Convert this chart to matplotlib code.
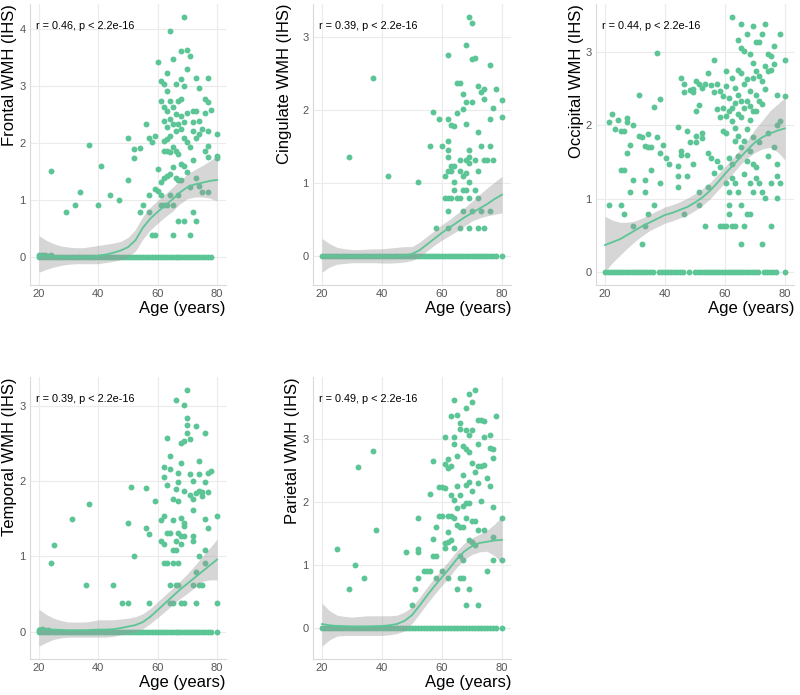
import matplotlib
matplotlib.use("Agg")
import matplotlib.pyplot as plt
from matplotlib.ticker import MultipleLocator

plt.rcParams['font.family'] = ['Liberation Sans', 'DejaVu Sans']

# ---------------- data ----------------
x_ticks = [20, 40, 60, 80]
curve_age = [20, 22.5, 25, 27.5, 30, 32.5, 35, 37.5, 40, 42.5, 45, 47.5, 50, 52.5, 55, 57.5, 60, 62.5, 65, 67.5,
             70, 72.5, 75, 77.5, 80]

# Frontal
frontal_age = [24, 29, 32, 34, 37, 40, 41, 44, 47, 50, 50, 52, 52, 54, 54, 55, 56, 57, 57, 57, 58, 58, 59, 59, 59,
               60, 60, 60, 61, 61, 61, 61, 61, 62, 62, 62, 62, 62, 62, 62, 63, 63, 63, 63, 63, 63, 63, 63,
               64, 64, 64, 64, 64, 64, 64, 65, 65, 65, 65, 65, 65, 65, 66, 66, 66, 66, 66, 67, 67, 67, 67, 67, 67,
               68, 68, 68, 68, 68, 68, 68, 69, 69, 69, 69, 69, 69, 70, 70, 70, 70, 70, 71, 71, 71, 71,
               72, 72, 72, 72, 72, 73, 73, 73, 73, 73, 74, 74, 74, 74, 75, 75, 76, 76, 76, 77, 77, 77, 77, 77, 77,
               78, 80, 80, 80, 20, 21, 22, 23, 24]
frontal_val = [1.51, 0.79, 0.92, 1.15, 1.98, 0.92, 1.61, 1.09, 1.01, 1.35, 2.09, 1.74, 1.90, 1.91, 0.79, 0.92, 2.34,
               2.09, 0.79, 1.10, 2.02, 0.39, 0.39, 2.13, 1.20,
               3.42, 1.55, 1.17, 3.10, 2.75, 1.32, 1.10, 0.92, 3.04, 2.63, 2.40, 2.05, 1.87, 1.40, 0.92,
               3.24, 2.92, 2.57, 2.28, 2.08, 1.87, 1.43, 0.92,
               3.97, 2.75, 2.43, 2.13, 1.84, 1.46, 1.09, 3.48, 2.63, 2.34, 1.93, 1.59, 0.92, 0.39,
               3.04, 2.51, 2.22, 1.87, 1.40, 2.75, 2.34, 1.81, 1.35, 1.09, 0.63,
               3.62, 3.13, 2.78, 2.48, 2.25, 1.64, 1.35, 4.22, 3.01, 2.37, 2.10, 1.61, 0.63, 3.63, 3.30, 2.54, 2.02,
               1.49, 3.53, 1.93, 0.39, 1.23,
               2.57, 2.37, 2.22, 1.70, 0.79, 3.15, 2.57, 2.10, 1.39, 0.63, 2.97, 2.40, 2.16, 1.26, 2.25, 1.15,
               2.54, 2.78, 1.87, 3.14, 2.72, 2.22, 1.96, 1.76, 1.15,
               2.59, 2.17, 1.78, 1.75, 0.04, 0.05, 0.04, 0.03, 0.04]
frontal_zero_age = [20, 21, 22, 23, 24, 25, 26, 27, 28, 29, 30, 31, 32, 33, 34, 35, 36, 37, 38, 39, 40, 41, 42, 43,
                    44, 45, 46, 47, 48, 49, 50, 51, 52, 53, 54, 55, 56, 57, 58, 59, 60, 61, 62, 63, 64, 65, 66, 67,
                    68, 69, 70, 71, 72, 73, 74, 75, 76, 77, 78]
frontal_fit = [0.035, 0.03, 0.02, 0.01, 0.005, 0.0, 0.0, 0.01, 0.03, 0.05, 0.08, 0.12, 0.18, 0.30, 0.52, 0.68,
               0.80, 0.91, 1.02, 1.14, 1.23, 1.28, 1.31, 1.34, 1.36]
frontal_lo = [-0.26, -0.21, -0.17, -0.14, -0.12, -0.11, -0.11, -0.11, -0.11, -0.09, -0.07, -0.04, 0.01, 0.11, 0.32,
              0.48, 0.60, 0.71, 0.81, 0.94, 1.03, 1.06, 1.06, 1.04, 0.99]
frontal_hi = [0.38, 0.30, 0.24, 0.20, 0.18, 0.17, 0.17, 0.19, 0.21, 0.23, 0.25, 0.28, 0.35, 0.49, 0.72, 0.88,
              1.00, 1.11, 1.23, 1.35, 1.46, 1.54, 1.61, 1.69, 1.78]

# Cingulate
cingulate_age = [29, 37, 42, 52, 56, 57, 58, 59, 60, 61, 61, 62, 62, 62, 62, 62, 62, 62, 62, 62, 63, 63, 63, 63,
                 64, 64, 64, 64, 65, 65, 65, 66, 66, 66, 66, 66, 67, 67, 67, 67, 67, 68, 68, 68, 68, 68, 68,
                 69, 69, 69, 69, 69, 69, 69, 70, 70, 70, 70, 71, 71, 71, 72, 72, 72, 72, 72, 73, 73, 73,
                 74, 74, 74, 74, 75, 76, 76, 76, 76, 77, 77, 78, 80, 80]
cingulate_val = [1.35, 2.43, 1.09, 1.01, 1.51, 1.97, 0.38, 1.87, 1.51, 1.09, 0.80, 2.75, 1.87, 1.57, 1.45, 1.35,
                 1.16, 0.80, 0.62, 0.38, 1.79, 1.23, 1.16, 0.80,
                 1.78, 1.23, 1.01, 0.91, 1.95, 2.37, 0.80, 2.36, 1.32, 1.16, 0.80, 0.38, 2.21, 2.01, 1.09, 0.91, 0.62,
                 2.89, 2.11, 1.81, 1.32, 1.14, 0.91,
                 3.27, 1.45, 1.36, 1.27, 1.01, 0.80, 0.38, 3.18, 2.69, 2.11, 0.62, 2.70, 1.32, 0.91,
                 2.32, 1.69, 1.16, 0.80, 0.38, 2.24, 1.51, 0.62,
                 2.29, 2.15, 1.32, 0.38, 1.32, 2.61, 1.87, 1.51, 0.62, 2.02, 1.32, 2.29, 2.13, 1.90]
cingulate_zero_age = [20, 21, 22, 23, 24, 25, 26, 27, 28, 29, 30, 31, 32, 33, 34, 35, 36, 37, 38, 39, 40, 41, 42,
                      43, 44, 45, 46, 47, 48, 49, 50, 51, 52, 53, 54, 55, 56, 57, 58, 59, 60, 61, 62, 63, 64, 65,
                      66, 67, 68, 69, 70, 71, 72, 73, 74, 75, 76, 77, 78, 80]
cingulate_fit = [0.0, 0.0, 0.0, 0.0, 0.0, 0.0, 0.0, 0.0, 0.0, 0.0, 0.0, 0.005, 0.03, 0.08, 0.16, 0.24, 0.32, 0.39,
                 0.46, 0.53, 0.59, 0.65, 0.71, 0.78, 0.84]
cingulate_lo = [-0.22, -0.15, -0.11, -0.10, -0.09, -0.09, -0.09, -0.09, -0.095, -0.095, -0.09, -0.08, -0.06, -0.01,
                0.07, 0.15, 0.22, 0.28, 0.34, 0.41, 0.48, 0.52, 0.55, 0.57, 0.59]
cingulate_hi = [0.24, 0.17, 0.12, 0.10, 0.09, 0.09, 0.095, 0.10, 0.10, 0.11, 0.12, 0.13, 0.13, 0.19, 0.27, 0.35,
                0.43, 0.50, 0.58, 0.66, 0.75, 0.84, 0.93, 1.01, 1.09]

# Occipital
occipital_age = [21.3, 21.3, 22.3, 23.3, 24.3, 25.3, 25.3, 25.3, 26.3, 26.3, 26.3, 27.3, 27.3, 27.3, 28.3, 28.3,
                 29.3, 29.3, 29.3, 31.3, 31.3, 32.3, 32.3, 33.3, 33.3, 33.3, 33.3, 34.3, 34.3, 34.3, 35.3, 35.3,
                 36.3, 36.3, 37.3, 37.3, 38.3, 38.3, 38.3, 39.3, 40.3, 41.3,
                 44.3, 44.3, 44.3, 44.3, 45.3, 45.3, 45.3, 46.3, 46.3, 46.3, 47.3, 47.3, 47.3, 48.3, 48.3,
                 49.3, 49.3, 49.3, 50.3, 50.3, 50.3, 50.3, 51.3, 51.3, 51.3, 51.3, 52.3, 52.3, 52.3, 53.3, 53.3,
                 54.3, 54.3, 54.3, 55.3, 55.3, 56.3, 56.3, 56.3, 57.3, 57.3, 57.3, 58.3, 58.3, 58.3, 58.3,
                 59.3, 59.3, 59.3, 59.3, 60.3, 60.3, 60.3, 60.3, 60.3, 60.3,
                 61.3, 61.3, 61.3, 61.3, 61.3, 61.3, 62.3, 62.3, 62.3, 62.3, 62.3, 62.3, 62.3,
                 63.3, 63.3, 63.3, 63.3, 63.3, 63.3, 64.3, 64.3, 64.3, 64.3, 64.3, 64.3, 64.3,
                 65.3, 65.3, 65.3, 65.3, 65.3, 65.3, 65.3, 65.3, 66.3, 66.3, 66.3, 66.3, 66.3, 66.3,
                 67.3, 67.3, 67.3, 67.3, 67.3, 67.3, 68.3, 68.3, 68.3, 68.3, 68.3, 68.3, 68.3,
                 69.3, 69.3, 69.3, 69.3, 69.3, 69.3, 69.3, 70.3, 70.3, 70.3, 70.3, 70.3, 70.3,
                 71.3, 71.3, 71.3, 71.3, 71.3, 72.3, 72.3, 72.3, 72.3, 72.3, 73.3, 73.3, 73.3, 73.3,
                 74.3, 74.3, 74.3, 74.3, 75.3, 75.3, 75.3, 75.3, 76.3, 76.3, 76.3,
                 77.3, 77.3, 77.3, 77.3, 77.3, 78.3, 78.3, 78.3, 80, 80]
occipital_val = [0.92, 2.04, 2.15, 1.95, 2.08, 0.92, 1.93, 1.39, 1.93, 1.39, 0.80, 2.10, 1.63, 2.04, 1.74, 1.09,
                 2.01, 1.26, 0.63, 2.41, 1.86, 1.84, 0.39, 1.26, 1.09, 0.63, 1.72, 1.88, 1.71, 0.79, 1.71, 1.39,
                 2.25, 0.92, 2.98, 1.84, 2.36, 1.63, 1.21, 1.74, 1.56, 1.48,
                 1.98, 1.45, 1.31, 1.16, 2.64, 1.65, 1.60, 2.56, 2.46, 0.79, 1.93, 1.60, 1.31, 2.48, 1.77,
                 2.49, 1.48, 2.46, 2.61, 2.20, 1.86, 1.77, 2.56, 2.28, 1.09, 0.92, 1.90, 2.51, 1.83, 0.63, 2.56,
                 2.72, 1.63, 1.16, 2.55, 1.56, 2.89, 2.45, 1.35, 2.23, 2.56, 1.52, 2.47, 2.11, 0.63, 1.43,
                 2.40, 2.24, 1.93, 0.63, 2.74, 2.54, 2.13, 1.89, 0.63, 1.21,
                 2.38, 2.20, 1.56, 1.09, 0.92, 0.79, 3.48, 2.65, 2.24, 2.06, 1.47, 1.29, 0.63,
                 2.51, 2.31, 1.97, 1.79, 1.21, 0.63, 3.17, 2.76, 2.42, 2.15, 1.86, 1.59, 1.09,
                 3.38, 3.06, 2.72, 2.33, 2.11, 1.70, 0.92, 0.39, 3.01, 2.56, 2.24, 1.79, 1.34, 0.63,
                 3.24, 2.63, 2.33, 1.95, 1.52, 0.79, 2.97, 2.47, 2.27, 2.08, 1.65, 1.21, 0.79,
                 3.35, 2.85, 2.65, 2.20, 1.84, 1.47, 1.09, 3.13, 2.74, 2.42, 2.20, 1.43, 1.29,
                 3.13, 2.67, 2.33, 1.77, 1.21, 3.24, 2.60, 2.29, 1.09, 0.39, 3.38, 2.81, 2.49, 1.01,
                 2.97, 2.74, 1.90, 1.59, 2.95, 2.76, 1.21, 0.63, 3.08, 2.83, 1.70,
                 2.42, 2.01, 1.48, 1.31, 1.01, 3.24, 2.06, 1.21, 2.89, 2.40]
occipital_zero_age = [20, 21, 22, 23, 24, 25, 26, 27, 28, 29, 30, 31, 32, 33, 34, 35, 36, 38, 39, 40, 41, 42, 43,
                      44, 45, 46, 48, 50, 51, 52, 53, 54, 55, 56, 57, 58, 59, 60, 61, 62, 63, 64, 65, 66, 67, 68,
                      69, 70, 71, 73, 74, 75, 76, 77, 80]
occipital_fit = [0.37, 0.41, 0.45, 0.51, 0.57, 0.63, 0.68, 0.73, 0.78, 0.81, 0.85, 0.89, 0.95, 1.02, 1.11, 1.22,
                 1.34, 1.45, 1.56, 1.67, 1.77, 1.84, 1.89, 1.93, 1.96]
occipital_lo = [0.01, 0.13, 0.23, 0.33, 0.42, 0.50, 0.57, 0.62, 0.67, 0.70, 0.74, 0.78, 0.84, 0.91, 1.00, 1.11,
                1.22, 1.34, 1.46, 1.56, 1.63, 1.68, 1.70, 1.64, 1.53]
occipital_hi = [0.76, 0.71, 0.68, 0.68, 0.70, 0.74, 0.79, 0.84, 0.89, 0.92, 0.96, 1.01, 1.07, 1.14, 1.22, 1.33,
                1.44, 1.55, 1.67, 1.80, 1.95, 2.07, 2.20, 2.29, 2.38]

# Temporal
temporal_age = [24, 25, 31, 36, 37, 45, 48, 50, 50, 51, 52, 56, 56, 57, 57, 59, 61, 61, 62, 62, 62, 62, 62,
                63, 63, 63, 63, 64, 64, 64, 64, 64, 65, 65, 65, 65, 65, 66, 66, 66, 66, 66, 67, 67, 67, 67, 67, 67,
                68, 68, 68, 68, 68, 68, 69, 69, 69, 69, 69, 69, 69, 70, 70, 70, 70, 71, 71, 71,
                72, 72, 72, 72, 72, 72, 73, 73, 73, 73, 74, 74, 74, 74, 74, 75, 75, 75, 76, 76, 76, 76, 76,
                77, 77, 77, 78, 80, 80, 20, 21, 22, 23]
temporal_val = [0.91, 1.15, 1.50, 0.62, 1.70, 0.62, 0.38, 0.38, 1.45, 1.92, 1.00, 1.91, 1.38, 1.30, 0.38, 1.73,
                1.49, 1.20, 2.19, 2.06, 1.53, 1.16, 0.91,
                2.57, 1.95, 1.31, 0.91, 2.33, 2.16, 1.31, 0.62, 0.38, 1.76, 1.48, 1.08, 0.91, 0.38,
                3.08, 1.90, 1.20, 1.08, 0.62, 2.11, 1.99, 1.73, 1.31, 0.91, 0.62,
                2.51, 2.24, 1.51, 1.27, 1.16, 0.38, 3.01, 2.53, 1.87, 1.44, 1.40, 1.27, 0.38, 3.21, 2.83, 2.74,
                2.64, 2.56, 2.09, 1.82,
                2.00, 1.76, 1.62, 1.27, 1.20, 0.62, 2.73, 1.84, 0.79, 0.38, 2.27, 2.09, 1.87, 1.00, 0.62,
                1.80, 1.85, 0.62, 2.64, 1.99, 1.50, 1.08, 0.91,
                2.11, 1.85, 1.38, 2.13, 1.53, 0.38, 0.03, 0.04, 0.03, 0.03]
temporal_zero_age = [20, 21, 22, 23, 24, 25, 26, 27, 28, 29, 30, 31, 32, 33, 34, 35, 36, 37, 38, 39, 40, 41, 42,
                     43, 44, 45, 46, 47, 48, 49, 50, 51, 52, 53, 54, 55, 56, 57, 58, 59, 60, 61, 62, 63, 64, 65,
                     66, 67, 68, 69, 70, 71, 72, 73, 74, 75, 76, 77, 78, 80]
temporal_fit = [0.045, 0.035, 0.03, 0.025, 0.02, 0.02, 0.02, 0.025, 0.03, 0.03, 0.035, 0.05, 0.07, 0.09, 0.13,
                0.20, 0.29, 0.38, 0.47, 0.56, 0.64, 0.72, 0.80, 0.88, 0.96]
temporal_lo = [-0.19, -0.14, -0.10, -0.08, -0.07, -0.07, -0.07, -0.07, -0.07, -0.07, -0.06, -0.04, -0.02, 0.00,
               0.04, 0.11, 0.19, 0.27, 0.36, 0.44, 0.51, 0.59, 0.67, 0.69, 0.69]
temporal_hi = [0.30, 0.23, 0.18, 0.15, 0.13, 0.13, 0.13, 0.14, 0.16, 0.16, 0.16, 0.17, 0.18, 0.20, 0.24, 0.31,
               0.40, 0.49, 0.58, 0.67, 0.77, 0.88, 1.00, 1.11, 1.23]

# Parietal
parietal_age = [25, 29, 31, 32, 34, 37, 38, 48, 50, 51, 52, 52, 52, 52, 54, 55, 56, 56, 57, 57, 57, 58, 58, 58,
                59, 59, 60, 60, 60, 61, 61, 61, 61, 61, 62, 62, 62, 62, 62, 62, 63, 63, 63, 63, 63,
                64, 64, 64, 64, 64, 64, 65, 65, 65, 65, 65, 65, 66, 66, 66, 66, 66, 66, 67, 67, 67, 67, 67, 67,
                68, 68, 68, 68, 68, 68, 68, 69, 69, 69, 69, 69, 69, 69, 70, 70, 70, 70, 70, 70,
                71, 71, 71, 71, 72, 72, 72, 72, 72, 72, 73, 73, 73, 74, 74, 74, 74, 75, 75, 76, 76, 76,
                77, 77, 77, 77, 77, 78, 80, 80]
parietal_val = [1.25, 0.62, 1.00, 2.55, 0.79, 2.80, 1.55, 1.20, 0.37, 0.62, 1.74, 1.25, 1.20, 0.79, 0.91, 0.91,
                2.13, 0.91, 2.65, 1.41, 1.15, 1.15, 1.61, 0.79,
                2.23, 1.77, 2.23, 1.77, 0.91, 3.02, 2.60, 2.22, 1.35, 1.27, 2.68, 2.54, 1.77, 1.53, 1.37, 0.79,
                3.35, 2.56, 2.11, 1.77, 1.40,
                3.61, 3.02, 2.91, 2.03, 1.74, 1.27, 3.38, 2.72, 2.25, 1.90, 1.64, 0.62, 3.25, 3.15, 2.11, 1.61,
                1.15, 0.79, 2.88, 2.43, 1.93, 1.61, 1.08, 0.79,
                3.49, 3.14, 2.83, 2.27, 1.98, 1.74, 0.37, 3.71, 3.06, 2.78, 2.32, 1.98, 1.40, 0.62,
                3.57, 3.14, 2.61, 2.17, 1.69, 1.37,
                3.77, 2.47, 1.69, 1.32, 3.30, 2.91, 2.56, 2.30, 1.56, 0.37, 3.29, 2.57, 2.01, 3.28, 3.03, 2.59,
                1.56, 2.38, 0.91, 3.06, 2.25, 2.85,
                2.84, 2.69, 1.92, 1.45, 1.08, 3.35, 1.74, 1.08]
parietal_zero_age = [20, 21, 22, 23, 24, 25, 26, 27, 28, 29, 30, 31, 32, 33, 34, 35, 36, 37, 38, 39, 40, 41, 42,
                     43, 44, 45, 46, 47, 48, 49, 50, 51, 52, 53, 54, 55, 56, 57, 58, 59, 60, 61, 62, 63, 64, 65,
                     66, 67, 68, 69, 70, 71, 72, 73, 74, 75, 76, 77, 78, 80]
parietal_fit = [0.07, 0.05, 0.04, 0.035, 0.03, 0.03, 0.03, 0.035, 0.04, 0.05, 0.07, 0.12, 0.21, 0.36, 0.52, 0.67,
                0.81, 0.95, 1.10, 1.22, 1.30, 1.35, 1.37, 1.39, 1.40]
parietal_lo = [-0.28, -0.18, -0.12, -0.11, -0.11, -0.11, -0.11, -0.11, -0.11, -0.10, -0.08, -0.04, 0.08, 0.23,
               0.39, 0.54, 0.68, 0.82, 0.97, 1.09, 1.17, 1.21, 1.22, 1.15, 1.03]
parietal_hi = [0.40, 0.28, 0.21, 0.19, 0.18, 0.19, 0.20, 0.20, 0.20, 0.20, 0.21, 0.26, 0.34, 0.49, 0.65, 0.80,
               0.94, 1.08, 1.23, 1.35, 1.43, 1.49, 1.55, 1.65, 1.77]

panels = [
    ("Frontal WMH (IHS)", "r = 0.46, p < 2.2e-16", frontal_age, frontal_val, frontal_zero_age,
     frontal_fit, frontal_lo, frontal_hi),
    ("Cingulate WMH (IHS)", "r = 0.39, p < 2.2e-16", cingulate_age, cingulate_val, cingulate_zero_age,
     cingulate_fit, cingulate_lo, cingulate_hi),
    ("Occipital WMH (IHS)", "r = 0.44, p < 2.2e-16", occipital_age, occipital_val, occipital_zero_age,
     occipital_fit, occipital_lo, occipital_hi),
    ("Temporal WMH (IHS)", "r = 0.39, p < 2.2e-16", temporal_age, temporal_val, temporal_zero_age,
     temporal_fit, temporal_lo, temporal_hi),
    ("Parietal WMH (IHS)", "r = 0.49, p < 2.2e-16", parietal_age, parietal_val, parietal_zero_age,
     parietal_fit, parietal_lo, parietal_hi),
]

# ---------------- layout (pixels) ----------------
W, H = 800, 695
boxes = [(30, 4, 226, 285), (313, 4, 511, 285), (596, 4, 794, 285),
         (30, 377, 226, 659), (313, 377, 511, 659)]
ylabel_x = [10, 285, 577, 10, 293]

GREEN = "#5CC596"
fig = plt.figure(figsize=(W / 100, H / 100), dpi=100)
fig.patch.set_facecolor("white")

for (ylab, ann, ages, vals, zages, fit, lo, hi), (l, t, r, b), ylx in zip(panels, boxes, ylabel_x):
    ax = fig.add_axes([l / W, 1 - b / H, (r - l) / W, (b - t) / H])
    ax.set_facecolor("white")
    ax.fill_between(curve_age, lo, hi, color="#999999", alpha=0.4, linewidth=0, zorder=3)
    ax.scatter(zages, [0] * len(zages), s=18, color=GREEN, linewidths=0, zorder=2)
    ax.scatter(ages, vals, s=18, color=GREEN, linewidths=0, zorder=2)
    ax.plot(curve_age, fit, color=GREEN, lw=1.3, zorder=4)
    ax.set_xlim(17, 83)
    ax.margins(y=0.05)
    ax.set_xticks(x_ticks)
    ax.yaxis.set_major_locator(MultipleLocator(1))
    ax.grid(True, color="#EBEBEB", linewidth=0.8, zorder=0)
    ax.set_axisbelow(True)
    for s in ["top", "right"]:
        ax.spines[s].set_visible(False)
    for s in ["left", "bottom"]:
        ax.spines[s].set_color("#D9D9D9")
        ax.spines[s].set_linewidth(0.8)
    ax.tick_params(length=0, pad=3, labelsize=8, labelcolor="#555555")
    ax.text(0.03, 0.922, ann, transform=ax.transAxes, ha="left", va="center", fontsize=7.8, color="black")
    fig.text(ylx / W, 1 - t / H, ylab, rotation=90, ha="center", va="top", fontsize=12, color="black")
    fig.text(r / W, 1 - (b + 23) / H, "Age (years)", ha="right", va="center", fontsize=12, color="black")

fig.savefig("out.png", dpi=100, facecolor="white")
